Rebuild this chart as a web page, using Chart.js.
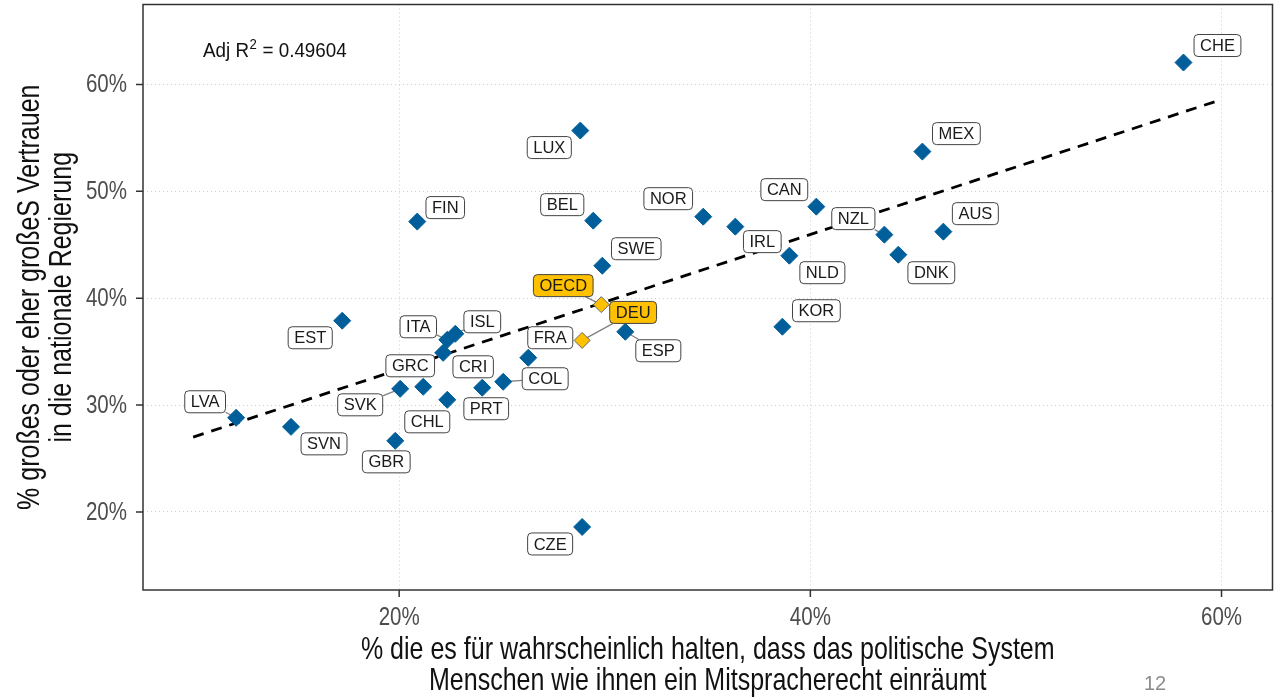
<!DOCTYPE html>
<html>
<head>
<meta charset="utf-8">
<script src="https://cdn.jsdelivr.net/npm/chart.js@4"></script>
<style>
html,body{margin:0;padding:0;background:#fff;overflow:hidden;}
#wrap{position:relative;width:1276px;height:697px;overflow:hidden;}
canvas{display:block;position:absolute;left:0;top:-5px;}
</style>
</head>
<body>
<div id="wrap"><canvas id="c" width="1282" height="702"></canvas></div>
<script>
// ---- Data (in %) ----
const countries = ['CHE','MEX','LUX','CAN','FIN','BEL','NOR','IRL','NLD','NZL','DNK','AUS','SWE','ESP','KOR','EST','ITA','ISL','CRI','FRA','GRC','COL','SVK','PRT','CHL','LVA','SVN','GBR','CZE'];
const xValues = [58.15,45.45,28.81,40.29,20.88,29.44,34.79,36.35,38.98,43.60,44.28,46.47,29.88,31.00,38.64,17.23,22.34,22.73,22.14,26.28,21.17,25.06,20.05,24.04,22.34,12.07,14.74,19.81,28.90];
const yValues = [62.06,53.72,55.69,48.57,47.17,47.26,47.63,46.70,43.98,45.95,44.07,46.23,43.04,36.86,37.33,37.89,36.11,36.67,34.89,34.43,31.71,32.18,31.52,31.62,30.49,28.81,27.96,26.65,18.59];
const highlightNames = ['OECD','DEU'];
const highlightX = [29.83,28.90];
const highlightY = [39.40,36.05];
const trendX = [9.98,59.85];
const trendY = [27.00,58.50];
const xTicks = [20,40,60];
const xTickLabels = ['20%','40%','60%'];
const yTicks = [20,30,40,50,60];
const yTickLabels = ['20%','30%','40%','50%','60%'];
const adjR2Text = '0.49604';
const xTitleLines = ['% die es für wahrscheinlich halten, dass das politische System','Menschen wie ihnen ein Mitspracherecht einräumt'];
const yTitleLines = ['% großes oder eher großeS Vertrauen','in die nationale Regierung'];
const pageNumber = '12';

// ---- Label placement (pixel offsets of label centre from its point) ----
const labelOffsets = {
  CHE:[34,-17], MEX:[34,-18], LUX:[-31,17], CAN:[-32,-17], FIN:[28,-14], BEL:[-31,-16],
  NOR:[-35,-18], IRL:[27,15], NLD:[33,17], NZL:[-31,-16], DNK:[33,18], AUS:[32,-18],
  SWE:[34,-17], OECD:[-38,-19], DEU:[51,-28], ESP:[33,19], KOR:[34,-16], EST:[-32,17],
  ITA:[-29,-13], ISL:[27,-12], CRI:[30,14], FRA:[22,-20], GRC:[-13,-21], COL:[42,-3],
  SVK:[-40,16], PRT:[4,21], CHL:[-20,22], LVA:[-31,-16], SVN:[33,17], GBR:[-9,21], CZE:[-32,17]
};
const segmentNames = ['LVA','SVK','COL','NZL','ESP','DEU','OECD','ITA','ISL'];

const REGULAR = "'Liberation Sans',Arial,sans-serif";
const NARROW_SCALE = 0.82;
const BLUE = '#005F9A';
const GOLD = '#FFC000';

function allItems(){
  const items = countries.map((c,i)=>({name:c,x:xValues[i],y:yValues[i],hl:false}));
  highlightNames.forEach((c,i)=>items.push({name:c,x:highlightX[i],y:highlightY[i],hl:true}));
  return items;
}
function boxFor(ctx, it, xs, ys){
  const px = xs.getPixelForValue(it.x), py = ys.getPixelForValue(it.y);
  const off = labelOffsets[it.name] || [0,0];
  const w = ctx.measureText(it.name).width + 12, h = 22;
  return {px, py, lx: px+off[0], ly: py+off[1], w, h};
}
function roundRect(ctx,x,y,w,h,r){
  ctx.beginPath();
  ctx.moveTo(x+r,y); ctx.lineTo(x+w-r,y); ctx.quadraticCurveTo(x+w,y,x+w,y+r);
  ctx.lineTo(x+w,y+h-r); ctx.quadraticCurveTo(x+w,y+h,x+w-r,y+h);
  ctx.lineTo(x+r,y+h); ctx.quadraticCurveTo(x,y+h,x,y+h-r);
  ctx.lineTo(x,y+r); ctx.quadraticCurveTo(x,y,x+r,y); ctx.closePath();
}
function narrowText(ctx, text, x, y, align, rotate, scale){
  ctx.save();
  ctx.translate(x,y);
  if (rotate) ctx.rotate(-Math.PI/2);
  ctx.scale(scale || NARROW_SCALE,1);
  ctx.textAlign = align;
  ctx.fillText(text,0,0);
  ctx.restore();
}

const decorPlugin = {
  id:'decor',
  beforeDatasetsDraw(chart){
    const ctx = chart.ctx, a = chart.chartArea, xs = chart.scales.x, ys = chart.scales.y;
    ctx.save();
    // frame
    ctx.strokeStyle = '#333'; ctx.lineWidth = 1.5; ctx.setLineDash([]);
    ctx.strokeRect(a.left, a.top, a.right-a.left, a.bottom-a.top);
    // tick marks
    ctx.beginPath();
    xTicks.forEach(v=>{ const p = xs.getPixelForValue(v); ctx.moveTo(p,a.bottom); ctx.lineTo(p,a.bottom+7); });
    yTicks.forEach(v=>{ const p = ys.getPixelForValue(v); ctx.moveTo(a.left-7,p); ctx.lineTo(a.left,p); });
    ctx.stroke();
    // tick labels
    ctx.fillStyle = '#4d4d4d'; ctx.font = "25px " + REGULAR; ctx.textBaseline = 'middle';
    xTicks.forEach((v,i)=>{ narrowText(ctx, xTickLabels[i], xs.getPixelForValue(v), a.bottom+28, 'center'); });
    yTicks.forEach((v,i)=>{ narrowText(ctx, yTickLabels[i], a.left-16, ys.getPixelForValue(v)+1, 'right'); });
    // leader segments
    ctx.font = "16.5px " + REGULAR;
    ctx.strokeStyle = '#808080'; ctx.lineWidth = 1.3;
    allItems().forEach(it=>{
      if (!segmentNames.includes(it.name)) return;
      const b = boxFor(ctx,it,xs,ys);
      const dx = b.px-b.lx, dy = b.py-b.ly;
      const s = Math.min((b.w/2)/Math.abs(dx||1e-6),(b.h/2)/Math.abs(dy||1e-6));
      if (s>=1) return;
      ctx.beginPath();
      ctx.moveTo(b.px,b.py);
      ctx.lineTo(b.lx+dx*s,b.ly+dy*s);
      ctx.stroke();
    });
    ctx.restore();
  },
  afterDatasetsDraw(chart){
    const ctx = chart.ctx, xs = chart.scales.x, ys = chart.scales.y;
    ctx.save();
    ctx.font = "16.5px " + REGULAR;
    ctx.textAlign = 'center'; ctx.textBaseline = 'middle';
    allItems().forEach(it=>{
      const b = boxFor(ctx,it,xs,ys);
      roundRect(ctx,b.lx-b.w/2,b.ly-b.h/2,b.w,b.h,4);
      ctx.fillStyle = it.hl ? GOLD : '#fff';
      ctx.fill();
      ctx.strokeStyle = '#444'; ctx.lineWidth = 1;
      ctx.stroke();
      ctx.fillStyle = '#1a1a1a';
      ctx.fillText(it.name, b.lx, b.ly+1);
    });
    ctx.restore();
  },
  afterDraw(chart){
    const ctx = chart.ctx, a = chart.chartArea;
    ctx.save();
    // Adj R^2 annotation
    ctx.fillStyle = '#111'; ctx.textBaseline = 'alphabetic';
    const sc = 0.94;
    ctx.font = "20px " + REGULAR;
    let x = 203; const base = a.top + 52;
    const t1 = 'Adj R';
    narrowText(ctx, t1, x, base, 'left', false, sc); x += ctx.measureText(t1).width*sc;
    ctx.font = "14px " + REGULAR;
    narrowText(ctx, '2', x+0.5, base-8, 'left', false, sc); x += ctx.measureText('2').width*sc + 1;
    ctx.font = "20px " + REGULAR;
    narrowText(ctx, ' = ' + adjR2Text, x, base, 'left', false, sc);
    // axis titles
    const cx = (a.left+a.right)/2;
    const cy = (a.top+a.bottom)/2;
    ctx.font = "30.5px " + REGULAR; ctx.fillStyle = '#111';
    narrowText(ctx, xTitleLines[0], cx, a.bottom+69, 'center');
    narrowText(ctx, xTitleLines[1], cx, a.bottom+100, 'center');
    narrowText(ctx, yTitleLines[0], 39, cy, 'center', true);
    narrowText(ctx, yTitleLines[1], 71, cy, 'center', true);
    // page number
    ctx.font = "20px " + REGULAR; ctx.fillStyle = '#8c8c8c'; ctx.textAlign = 'center';
    ctx.fillText(pageNumber, 1155, a.bottom+100);
    ctx.restore();
  }
};

const gridCommon = { color:'#cfcfcf', lineWidth:1, drawTicks:false };

new Chart(document.getElementById('c'), {
  type:'scatter',
  data:{
    datasets:[
      { label:'OECD/DEU', data: highlightX.map((v,i)=>({x:v,y:highlightY[i]})),
        pointStyle:'rectRot', radius:8, hoverRadius:8, backgroundColor:GOLD, borderColor:'#666', borderWidth:1, order:0 },
      { label:'Länder', data: xValues.map((v,i)=>({x:v,y:yValues[i]})),
        pointStyle:'rectRot', radius:8.5, hoverRadius:8.5, backgroundColor:BLUE, borderColor:BLUE, borderWidth:1, order:1 },
      { label:'Trend', data: trendX.map((v,i)=>({x:v,y:trendY[i]})), showLine:true,
        pointRadius:0, borderColor:'#000', borderWidth:2.8, borderDash:[11,8], fill:false, order:2 }
    ]
  },
  options:{
    responsive:false, animation:false,
    layout:{ padding:{ left:0, right:4, top:0, bottom:0 } },
    plugins:{ legend:{display:false}, tooltip:{enabled:false} },
    scales:{
      x:{ type:'linear', min:7.54, max:62.48,
          afterBuildTicks(s){ s.ticks = xTicks.map(v=>({value:v})); },
          afterFit(s){ s.height = 107; },
          ticks:{ display:false },
          grid: gridCommon, border:{ display:false, dash:[1,3] } },
      y:{ type:'linear', min:12.69, max:67.49,
          afterBuildTicks(s){ s.ticks = yTicks.map(v=>({value:v})); },
          afterFit(s){ s.width = 143; },
          ticks:{ display:false },
          grid: gridCommon, border:{ display:false, dash:[1,3] } }
    }
  },
  plugins:[decorPlugin]
});
</script>
</body>
</html>
